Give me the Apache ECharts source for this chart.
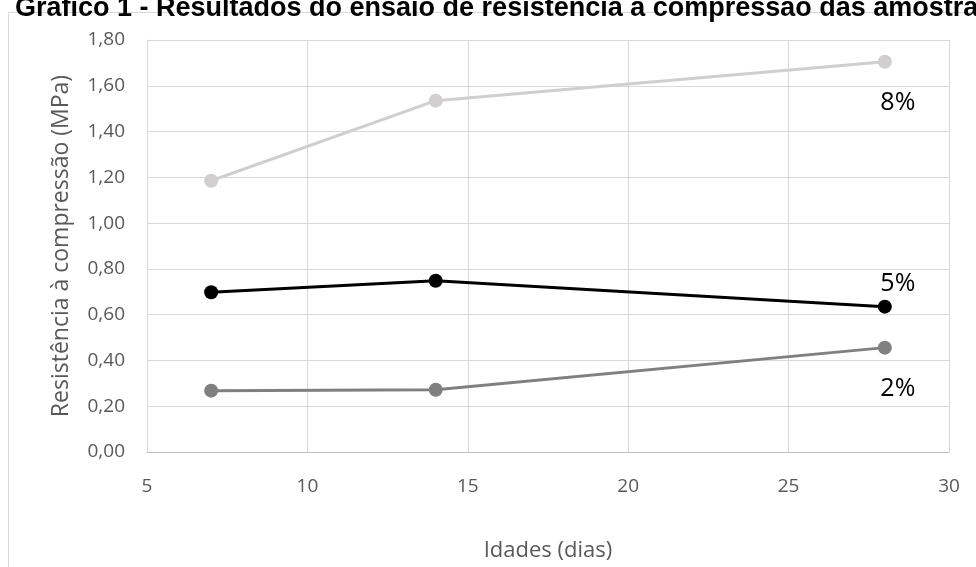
<!DOCTYPE html>
<html><head><meta charset="utf-8">
<script src="https://cdn.jsdelivr.net/npm/echarts@6/dist/echarts.min.js"></script>
<style>html,body{margin:0;padding:0;background:#fff}#c{width:976px;height:567px}</style>
</head><body><div id="c"></div>
<script>
const idades = [7, 14, 28];
const s8 = [1.185, 1.535, 1.705];
const s5 = [0.698, 0.748, 0.635];
const s2 = [0.268, 0.272, 0.456];
const seriesNames = ['8%', '5%', '2%'];
const titleText = 'Gráfico 1 - Resultados do ensaio de resistência à compressão das amostras';

const chart = echarts.init(document.getElementById('c'));
function mk(name, vals, color, labelPos, off) {
  return {
    name: name, type: 'line', data: idades.map((x, i) => [x, vals[i]]),
    symbol: 'circle', symbolSize: 14,
    lineStyle: { color: color, width: 3 }, itemStyle: { color: color },
    label: {
      show: true, formatter: p => p.dataIndex === 2 ? name : '',
      position: labelPos, offset: off, color: '#000',
      fontFamily: 'Open Sans', fontSize: 25
    },
    animation: false
  };
}
chart.setOption({
  animation: false,
  graphic: [{ type: 'rect', shape: { x: 8.5, y: 12.5, width: 1000, height: 600 },
    style: { fill: 'none', stroke: '#d9d9d9', lineWidth: 1 } }],
  title: { text: titleText, left: 10, top: -10,
    textStyle: { fontFamily: 'Liberation Sans', fontWeight: 'bold', fontSize: 27, color: '#000' } },
  grid: { left: 147, right: 27, top: 40, bottom: 112 },
  xAxis: { type: 'value', min: 5, max: 30, interval: 5,
    name: 'Idades (dias)', nameLocation: 'middle', nameGap: 88,
    nameTextStyle: { fontFamily: 'Open Sans', fontSize: 22, color: '#595959' },
    axisLine: { show: true, lineStyle: { color: '#bfbfbf' } }, axisTick: { show: false },
    axisLabel: { fontFamily: 'Open Sans', fontSize: 19, color: '#595959', margin: 25 },
    splitLine: { show: true, lineStyle: { color: '#d9d9d9' } } },
  yAxis: { type: 'value', min: 0, max: 1.8, interval: 0.2,
    name: 'Resistência à compressão (MPa)', nameLocation: 'middle', nameGap: 74,
    nameTextStyle: { fontFamily: 'Open Sans', fontSize: 23, color: '#595959' },
    axisLine: { show: true, lineStyle: { color: '#d9d9d9' } }, axisTick: { show: false },
    axisLabel: { fontFamily: 'Open Sans', fontSize: 19, color: '#595959', margin: 22,
      formatter: v => v.toFixed(2).replace('.', ',') },
    splitLine: { show: true, lineStyle: { color: '#d9d9d9' } } },
  series: [
    mk(seriesNames[0], s8, '#d0cece', 'bottom', [13, 17]),
    mk(seriesNames[1], s5, '#000000', 'top', [13, 2]),
    mk(seriesNames[2], s2, '#808080', 'bottom', [13, 17])
  ]
});
</script></body></html>
